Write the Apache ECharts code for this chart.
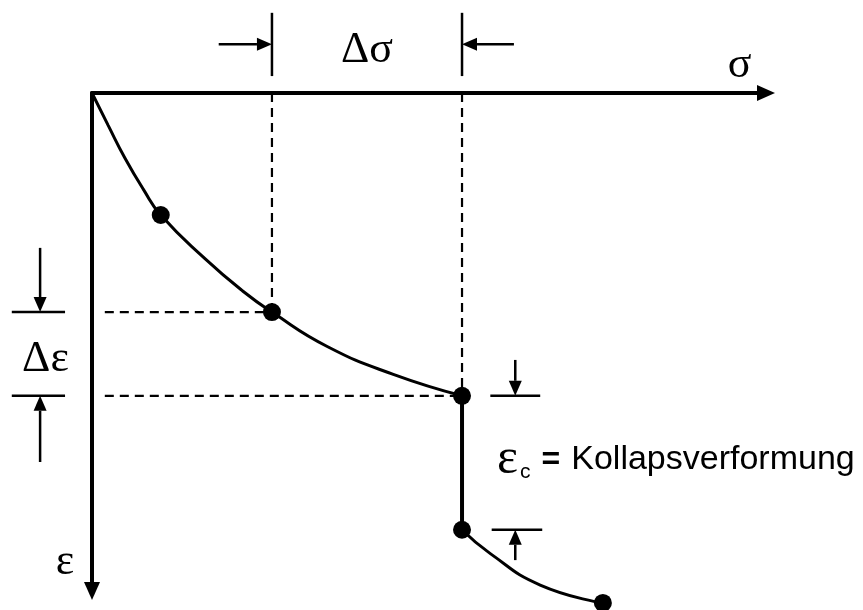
<!DOCTYPE html>
<html>
<head>
<meta charset="utf-8">
<title>Kollapsverformung</title>
<script src="https://cdn.jsdelivr.net/npm/echarts@6/dist/echarts.min.js"></script>
<style>
  html, body { margin: 0; padding: 0; background: #ffffff; }
  #chart { width: 863px; height: 610px; }
</style>
</head>
<body>
<div id="chart"></div>
<script>
// Stress (sigma, to the right) vs. strain (epsilon, downward), arbitrary units 0..100

// Loading curve before wetting: origin to the collapse point
const curveBefore = [
  [0, 0], [2.4, 6.5], [4.9, 13.1], [7.6, 19.3], [10.2, 24.5], [16.8, 33.3],
  [22.4, 39.8], [26.7, 44.0], [34.9, 50.9], [44.7, 56.5], [54.9, 60.8]
];
// Collapse at constant stress
const collapseDrop = [[54.9, 60.8], [54.9, 87.7]];
// Further loading after collapse
const curveAfter = [[54.9, 87.7], [59.1, 92.5], [66.5, 98.8], [75.8, 102.4]];
// Measured states marked with dots
const loadSteps = [[10.2, 24.5], [26.7, 44.0], [54.9, 60.8], [54.9, 87.7], [75.8, 102.4]];

// Dashed projection lines [x1, y1, x2, y2]
const guideLines = [
  [26.7, 0, 26.7, 44.0],
  [54.9, 0, 54.9, 60.8],
  [1.9, 44.0, 26.7, 44.0],
  [1.9, 60.8, 54.9, 60.8]
];
// Dimension ticks [x1, y1, x2, y2]
const dimTicks = [
  [26.7, -16.1, 26.7, -3.4],
  [54.9, -16.1, 54.9, -3.4],
  [-11.9, 44.0, -4.0, 44.0],
  [-11.9, 60.8, -4.0, 60.8],
  [59.1, 60.8, 66.5, 60.8],
  [59.3, 87.7, 66.8, 87.7]
];
// Dimension arrows [fromX, fromY, toX, toY]
const dimArrows = [
  [18.8, -9.8, 26.7, -9.8],
  [62.6, -9.8, 54.9, -9.8],
  [-7.7, 31.1, -7.7, 44.0],
  [-7.7, 74.1, -7.7, 60.8],
  [62.8, 53.6, 62.8, 60.8],
  [62.8, 93.8, 62.8, 87.7]
];
// Text labels [x, y]
const labelPos = [[96.1, -5.6], [-4.0, 94.2], [40.8, -8.6], [-6.9, 53.6], [60.1, 73.7]];
const labelText = ['σ', 'ε', 'Δσ', 'Δε', '{e|ε}{c|c} {q|=} {t|Kollapsverformung}'];
const labelAlign = ['center', 'center', 'center', 'center', 'left'];

const INK = '#000000';
const SERIF = '"Liberation Serif", "DejaVu Serif", serif';
const SANS = '"Liberation Sans", Arial, sans-serif';

function axisLook(arrowEnds) {
  return {
    type: 'value', min: 0, max: 100,
    axisLine: {
      show: true, onZero: false,
      symbol: arrowEnds, symbolSize: [16, 18],
      lineStyle: { color: INK, width: 4 }
    },
    axisTick: { show: false }, axisLabel: { show: false }, splitLine: { show: false }
  };
}

function segmentItem(lineStyle) {
  return function (params, api) {
    const a = api.coord([api.value(0), api.value(1)]);
    const b = api.coord([api.value(2), api.value(3)]);
    return {
      type: 'line',
      shape: { x1: a[0], y1: a[1], x2: b[0], y2: b[1] },
      style: Object.assign({ fill: null }, lineStyle)
    };
  };
}

function arrowItem(params, api) {
  const a = api.coord([api.value(0), api.value(1)]);
  const b = api.coord([api.value(2), api.value(3)]);
  const dx = b[0] - a[0], dy = b[1] - a[1];
  const len = Math.sqrt(dx * dx + dy * dy);
  const ux = dx / len, uy = dy / len;
  const head = 15, half = 6.5;
  const bx = b[0] - ux * head, by = b[1] - uy * head;
  return {
    type: 'group',
    children: [
      { type: 'line', shape: { x1: a[0], y1: a[1], x2: bx, y2: by },
        style: { stroke: INK, lineWidth: 2.5 } },
      { type: 'polygon',
        shape: { points: [[b[0], b[1]], [bx - uy * half, by + ux * half], [bx + uy * half, by - ux * half]] },
        style: { fill: INK } }
    ]
  };
}

function labelItem(params, api) {
  const p = api.coord([api.value(0), api.value(1)]);
  const i = params.dataIndex;
  return {
    type: 'text',
    x: p[0], y: p[1],
    style: {
      text: labelText[i],
      fontFamily: SERIF, fontSize: 44, fill: INK,
      align: labelAlign[i], verticalAlign: 'middle',
      rich: {
        e: { fontFamily: SERIF, fontSize: 50, fill: INK },
        c: { fontFamily: SANS, fontSize: 21, fill: INK, padding: [24, 0, 0, 2] },
        q: { fontFamily: SANS, fontSize: 32, fontWeight: 'bold', fill: INK },
        t: { fontFamily: SANS, fontSize: 34, fill: INK }
      }
    }
  };
}

const chart = echarts.init(document.getElementById('chart'), null, { renderer: 'canvas' });
chart.setOption({
  animation: false,
  backgroundColor: '#ffffff',
  grid: { left: 92, top: 93, width: 674, height: 498 },
  xAxis: Object.assign({ position: 'top' }, axisLook(['none', 'triangle'])),
  yAxis: Object.assign({ position: 'left', inverse: true }, axisLook(['triangle', 'none'])),
  series: [
    {
      type: 'custom', name: 'guides', clip: false, silent: true,
      renderItem: segmentItem({ stroke: INK, lineWidth: 2.2, lineDash: [9, 6] }),
      data: guideLines, z: 1
    },
    {
      type: 'line', name: 'before', data: curveBefore, smooth: 0.5,
      showSymbol: false, clip: false,
      lineStyle: { color: INK, width: 3 }, z: 3
    },
    {
      type: 'line', name: 'collapse', data: collapseDrop,
      showSymbol: false, clip: false,
      lineStyle: { color: INK, width: 4 }, z: 3
    },
    {
      type: 'line', name: 'after', data: curveAfter, smooth: 0.5,
      showSymbol: false, clip: false,
      lineStyle: { color: INK, width: 3 }, z: 3
    },
    {
      type: 'scatter', name: 'steps', data: loadSteps, symbolSize: 18,
      clip: false, itemStyle: { color: INK, opacity: 1 }, z: 4
    },
    {
      type: 'custom', name: 'ticks', clip: false, silent: true,
      renderItem: segmentItem({ stroke: INK, lineWidth: 2.5 }),
      data: dimTicks, z: 2
    },
    {
      type: 'custom', name: 'arrows', clip: false, silent: true,
      renderItem: arrowItem, data: dimArrows, z: 2
    },
    {
      type: 'custom', name: 'labels', clip: false, silent: true,
      renderItem: labelItem, data: labelPos, z: 5
    }
  ]
});
</script>
</body>
</html>
